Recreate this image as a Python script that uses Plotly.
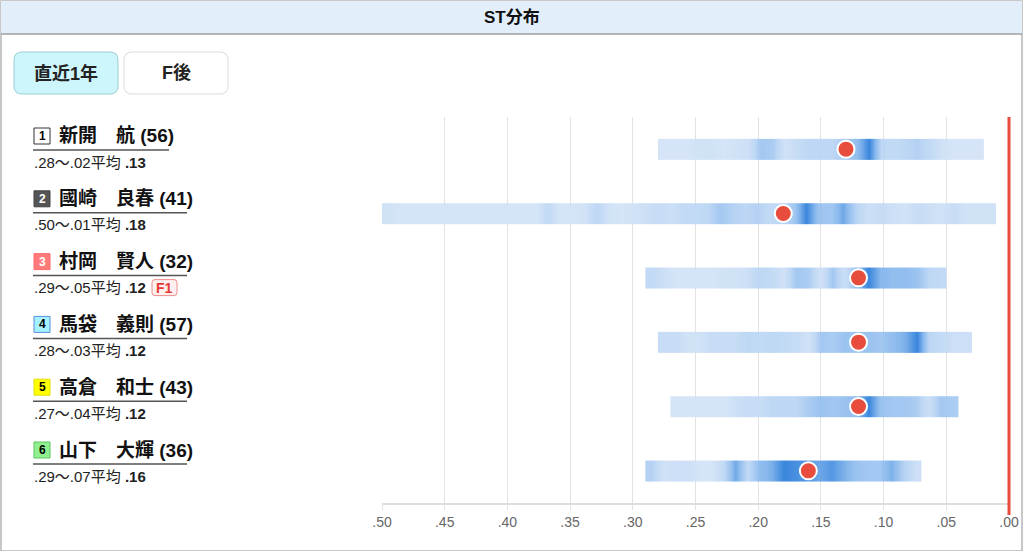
import numpy as np
import plotly.graph_objects as go

W, H = 1024, 551

# racer rows, top to bottom
lane_nums = [1, 2, 3, 4, 5, 6]
racer_names = ['新開　航', '國崎　良春', '村岡　賢人', '馬袋　義則', '高倉　和士', '山下　大輝']
race_counts = [56, 41, 32, 57, 43, 36]
st_slowest = [0.28, 0.50, 0.29, 0.28, 0.27, 0.29]
st_fastest = [0.02, 0.01, 0.05, 0.03, 0.04, 0.07]
st_average = [0.13, 0.18, 0.12, 0.12, 0.12, 0.16]
flying_badge = ['', '', 'F1', '', '', '']

# relative density of ST per 0.01 step, from slowest to fastest
density_1 = [0.1, 0.1, 0.1, 0.15, 0.15, 0.1, 0.15, 0.2, 0.5, 0.45, 0.15, 0.25, 0.35, 0.35,
             0.35, 0.45, 0.6, 0.95, 0.35, 0.3, 0.35, 0.4, 0.3, 0.15, 0.1, 0.1, 0.1]
density_2 = [0.15, 0.1, 0.1, 0.1, 0.1, 0.1, 0.1, 0.1, 0.1, 0.1, 0.1, 0.1, 0.1,
             0.3, 0.1, 0.1, 0.15, 0.35, 0.15, 0.1, 0.15, 0.2, 0.25, 0.2, 0.3, 0.3, 0.35,
             0.5, 0.4, 0.35, 0.4, 0.3, 0.35, 0.5, 0.95, 0.55, 0.5, 0.75, 0.4, 0.2, 0.25,
             0.2, 0.15, 0.25, 0.2, 0.15, 0.25, 0.15, 0.15, 0.15]
density_3 = [0.3, 0.2, 0.1, 0.1, 0.1, 0.1, 0.15, 0.15, 0.2, 0.35, 0.3, 0.15, 0.5, 0.45,
             0.15, 0.5, 0.2, 0.6, 0.95, 0.65, 0.6, 0.6, 0.55, 0.35, 0.3]
density_4 = [0.25, 0.25, 0.15, 0.15, 0.25, 0.25, 0.25, 0.35, 0.3, 0.35, 0.3, 0.25, 0.15,
             0.5, 0.45, 0.55, 0.5, 0.55, 0.5, 0.6, 0.7, 0.95, 0.35, 0.3, 0.2, 0.2]
density_5 = [0.1, 0.1, 0.1, 0.1, 0.1, 0.2, 0.25, 0.25, 0.35, 0.35, 0.35, 0.45, 0.55, 0.5,
             0.55, 0.6, 0.95, 0.55, 0.5, 0.5, 0.45, 0.2, 0.5, 0.45]
density_6 = [0.4, 0.15, 0.2, 0.2, 0.1, 0.1, 0.3, 0.75, 0.3, 0.6, 0.7, 0.95, 0.9, 0.85,
             0.75, 0.85, 0.7, 0.55, 0.5, 0.5, 0.7, 0.4, 0.2]
densities = [density_1, density_2, density_3, density_4, density_5, density_6]

tick_vals = [0.50, 0.45, 0.40, 0.35, 0.30, 0.25, 0.20, 0.15, 0.10, 0.05, 0.00]
tick_text = ['.50', '.45', '.40', '.35', '.30', '.25', '.20', '.15', '.10', '.05', '.00']

box_fill = ['#ffffff', '#555555', '#ff7b7b', '#a6f1ff', '#ffff00', '#8ef08e']
box_line = ['#333333', '#444444', '#ff6b6b', '#5a8ee0', '#e0e000', '#5fc55f']
box_text = ['#000000', '#ffffff', '#ffffff', '#000000', '#000000', '#000000']
underline_end = [169, 187, 187, 187, 187, 187]

JP = 'Liberation Sans, Noto Sans CJK JP, sans-serif'
RED = '#e74c3c'
PLOT_LEFT, PLOT_RIGHT, PLOT_TOP, PLOT_BOTTOM = 382, 1009, 117, 503


def px(x):
    return x / W


def py(y):
    return 1 - y / H


def fmt(v):
    return '.{:02d}'.format(int(round(v * 100)))


def rounded_rect(x0, y0, x1, y1, r):
    # rounded rectangle path in paper coords, built from pixel corners
    rx, ry = r / W, r / H
    a, b, c, d = px(x0), py(y1), px(x1), py(y0)
    return ('M {},{} L {},{} Q {},{} {},{} L {},{} Q {},{} {},{} L {},{} Q {},{} {},{} '
            'L {},{} Q {},{} {},{} Z').format(
        a + rx, b, c - rx, b, c, b, c, b + ry, c, d - ry, c, d, c - rx, d,
        a + rx, d, a, d, a, d - ry, a, b + ry, a, b, a + rx, b)


def label(x, y, text, size, color, anchor='center', family=JP):
    return dict(xref='paper', yref='paper', x=px(x), y=py(y), text=text, showarrow=False,
                xanchor=anchor, yanchor='middle', font=dict(family=family, size=size, color=color))


fig = go.Figure()

colorscale = [[0.0, '#dde9f8'], [0.35, '#b8d4f4'], [0.65, '#80b3ec'], [1.0, '#1c74d8']]

for i, dens in enumerate(densities):
    n = len(dens)
    x_edges = np.linspace(st_slowest[i], st_fastest[i], n + 1)
    fig.add_trace(go.Heatmap(
        z=[dens, dens],
        x=x_edges,
        y=[i - 0.16, i, i + 0.16],
        zmin=0, zmax=1,
        colorscale=colorscale,
        zsmooth='best',
        showscale=False,
        opacity=0.92,
        hoverinfo='skip',
    ))

fig.add_trace(go.Scatter(
    x=st_average,
    y=list(range(len(st_average))),
    mode='markers',
    marker=dict(size=17, color=RED, line=dict(color='white', width=2)),
    hoverinfo='skip',
    showlegend=False,
))

shapes = []
annotations = []

# outer frame and header bar
shapes.append(dict(type='rect', xref='paper', yref='paper', x0=px(1), x1=px(1022), y0=py(551), y1=py(1),
                   line=dict(color='#b5b5b5', width=1.5), layer='below'))
shapes.append(dict(type='rect', xref='paper', yref='paper', x0=px(1), x1=px(1022), y0=py(34), y1=py(1),
                   fillcolor='#e2effb', line=dict(width=0), layer='below'))
shapes.append(dict(type='line', xref='paper', yref='paper', x0=px(1), x1=px(1022), y0=py(34), y1=py(34),
                   line=dict(color='#a0a0a0', width=1.5)))
annotations.append(label(512, 18, '<b>ST分布</b>', 17, '#111111'))

# period buttons
shapes.append(dict(type='path', xref='paper', yref='paper', path=rounded_rect(14, 52, 118, 94, 8),
                   fillcolor='#cdf5fc', line=dict(color='#9ccdd6', width=1)))
shapes.append(dict(type='path', xref='paper', yref='paper', path=rounded_rect(124, 52, 228, 94, 8),
                   fillcolor='#ffffff', line=dict(color='#dadada', width=1)))
annotations.append(label(66, 73, '<b>直近1年</b>', 18, '#222222'))
annotations.append(label(176, 73, '<b>F後</b>', 18, '#222222'))

# racer labels on the left
for i in range(len(lane_nums)):
    name_y = 136 + 62.8 * i
    shapes.append(dict(type='rect', xref='paper', yref='paper', x0=px(34), x1=px(50),
                       y0=py(name_y + 8), y1=py(name_y - 8),
                       fillcolor=box_fill[i], line=dict(color=box_line[i], width=1)))
    annotations.append(label(42, name_y, '<b>{}</b>'.format(lane_nums[i]), 12, box_text[i],
                             family='Liberation Sans'))
    annotations.append(label(57, name_y, '<b>{} ({})</b>'.format(racer_names[i], race_counts[i]),
                             19, '#111111', anchor='left'))
    shapes.append(dict(type='line', xref='paper', yref='paper', x0=px(33), x1=px(underline_end[i]),
                       y0=py(name_y + 14), y1=py(name_y + 14), line=dict(color='#555555', width=1.5)))
    sub = '{}〜{}平均 <b>{}</b>'.format(fmt(st_slowest[i]), fmt(st_fastest[i]), fmt(st_average[i]))
    annotations.append(label(32, name_y + 26, sub, 15, '#222222', anchor='left'))
    if flying_badge[i]:
        shapes.append(dict(type='path', xref='paper', yref='paper',
                           path=rounded_rect(152, name_y + 18, 177, name_y + 34, 3),
                           fillcolor='#fff0f0', line=dict(color='#f08a8a', width=1)))
        annotations.append(label(164.5, name_y + 26, '<b>{}</b>'.format(flying_badge[i]), 14, '#e53935',
                                 family='Liberation Sans'))

# 0.00 reference line at the right end of the reversed axis, a little past the axis line
shapes.append(dict(type='line', xref='paper', yref='paper', x0=px(PLOT_RIGHT), x1=px(PLOT_RIGHT),
                   y0=py(PLOT_BOTTOM + 12), y1=py(PLOT_TOP), line=dict(color=RED, width=3)))

fig.update_layout(
    width=W, height=H,
    margin=dict(l=0, r=0, t=0, b=0),
    paper_bgcolor='white',
    plot_bgcolor='white',
    showlegend=False,
    shapes=shapes,
    annotations=annotations,
    xaxis=dict(domain=[px(PLOT_LEFT), px(PLOT_RIGHT)], range=[0.5, 0.0], tickvals=tick_vals, ticktext=tick_text,
               showgrid=True, gridcolor='#e2e2e2', gridwidth=1, zeroline=False,
               showline=True, linecolor='#dedede', linewidth=2, ticks='outside', ticklen=5,
               tickcolor='#e2e2e2', tickfont=dict(family='Liberation Sans', size=14, color='#666666'),
               fixedrange=True, automargin=False),
    yaxis=dict(domain=[py(PLOT_BOTTOM), py(PLOT_TOP)], range=[5.5, -0.5], visible=False, fixedrange=True),
)

# drop the default page margin so the figure sits at the window's top-left corner
fig.write_html('out.html', config={'displayModeBar': False},
               post_script="document.body.style.margin='0';document.body.style.overflow='hidden';")
